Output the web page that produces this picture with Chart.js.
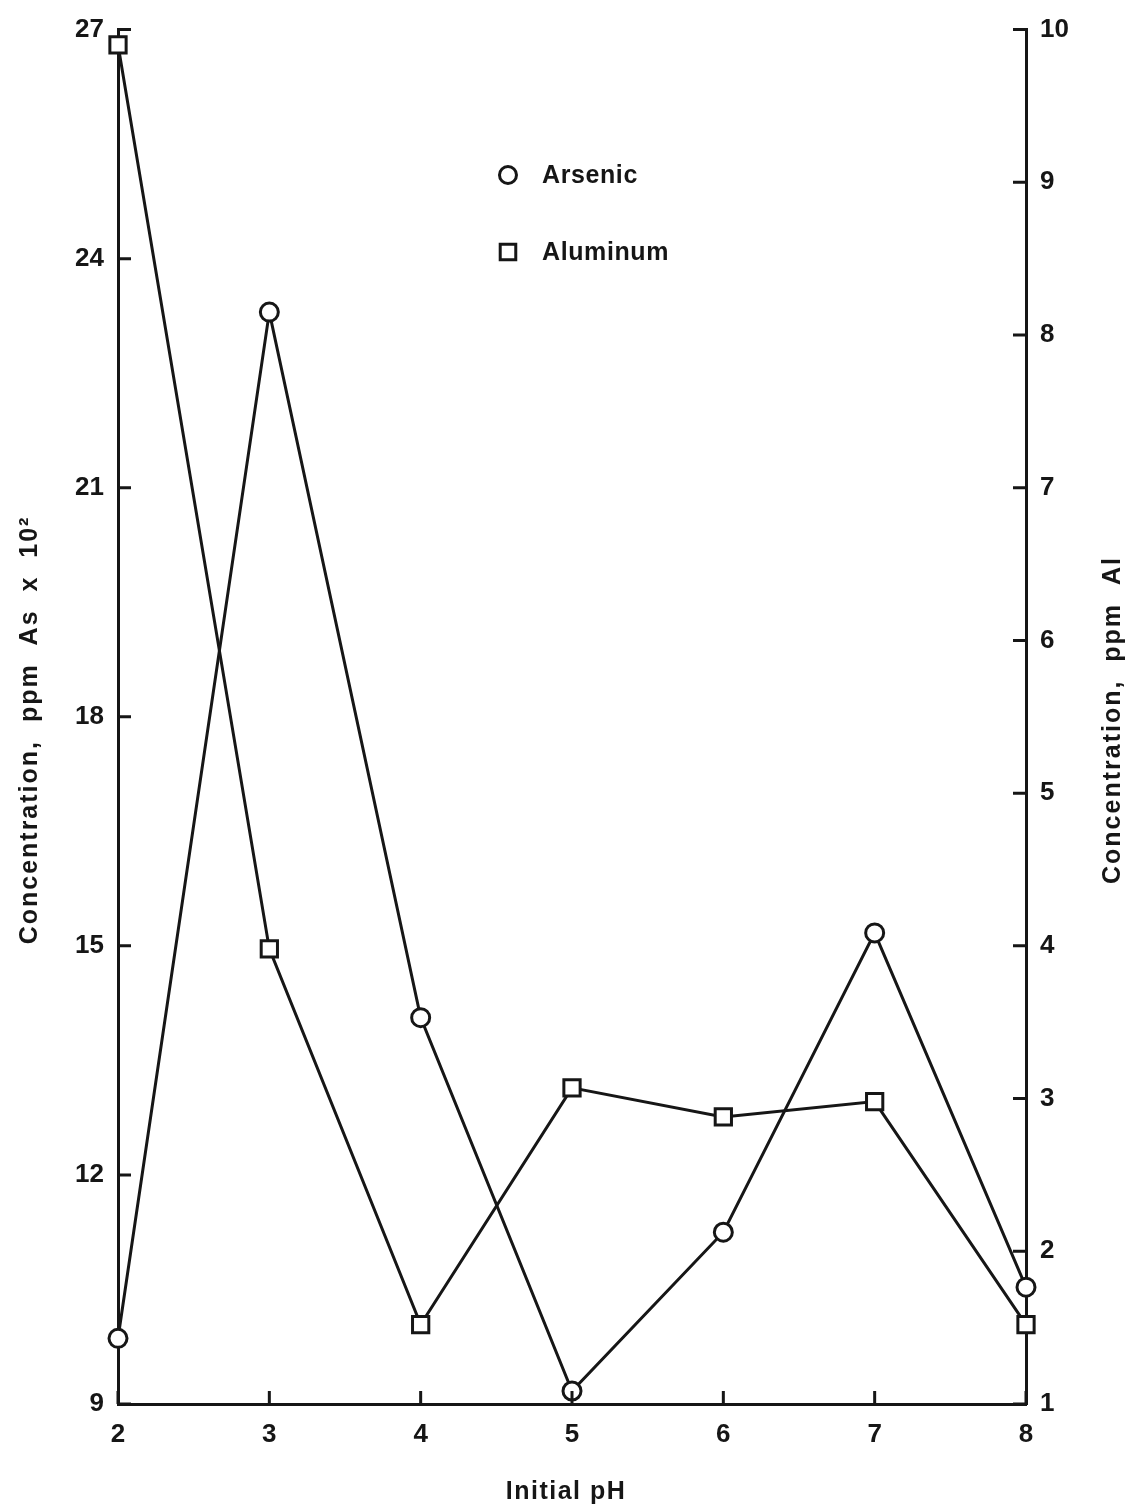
<!DOCTYPE html>
<html>
<head>
<meta charset="utf-8">
<script src="https://cdn.jsdelivr.net/npm/chart.js@4.4.1/dist/chart.umd.min.js"></script>
<style>
  html, body { margin: 0; padding: 0; background: #fff; }
  #wrap { width: 1131px; height: 1508px; }
</style>
</head>
<body>
<div id="wrap"><canvas id="phChart"></canvas></div>
<script>
const phValues = [2, 3, 4, 5, 6, 7, 8];
const arsenic = [9.86, 23.3, 14.06, 9.17, 11.25, 15.17, 10.53];   // ppm As x 10^2
const aluminum = [9.9, 3.98, 1.52, 3.07, 2.88, 2.98, 1.52];       // ppm Al

const leftTicks = [9, 12, 15, 18, 21, 24, 27];
const rightTicks = [1, 2, 3, 4, 5, 6, 7, 8, 9, 10];

const INK = "#161616";
const FONT = "'Liberation Sans', Arial, sans-serif";
const xTitle = "Initial pH";
const leftTitle = "Concentration,  ppm  As  x  10²";
const rightTitle = "Concentration,  ppm  Al";

const toPoints = (values) => values.map((v, i) => ({ x: phValues[i], y: v }));

function spacedText(ctx, text, x, y, rotation, spacing) {
  ctx.save();
  ctx.translate(x, y);
  ctx.rotate(rotation);
  ctx.letterSpacing = spacing;
  ctx.fillText(text, 0, 0);
  ctx.restore();
}

// inward tick marks, axis titles and the in-plot key
const decorations = {
  id: "decorations",
  afterDraw(chart) {
    const { ctx, chartArea: area, scales } = chart;
    const len = 13;
    ctx.save();
    ctx.strokeStyle = INK;
    ctx.lineWidth = 3;
    ctx.beginPath();
    leftTicks.forEach((v) => {
      const py = scales.y.getPixelForValue(v);
      ctx.moveTo(area.left, py);
      ctx.lineTo(area.left + len, py);
    });
    rightTicks.forEach((v) => {
      const py = scales.y1.getPixelForValue(v);
      ctx.moveTo(area.right, py);
      ctx.lineTo(area.right - len, py);
    });
    phValues.forEach((v) => {
      const px = scales.x.getPixelForValue(v);
      ctx.moveTo(px, area.bottom);
      ctx.lineTo(px, area.bottom - len);
    });
    ctx.stroke();

    ctx.fillStyle = INK;
    ctx.font = "bold 25px " + FONT;
    ctx.textAlign = "center";
    ctx.textBaseline = "middle";
    const midX = (area.left + area.right) / 2;
    spacedText(ctx, xTitle, midX - 6, 1492, 0, "1.5px");
    spacedText(ctx, leftTitle, 30, 730, -Math.PI / 2, "2px");
    spacedText(ctx, rightTitle, 1113, 720, -Math.PI / 2, "2px");
    ctx.restore();

    // key
    ctx.save();
    const keyX = area.left + (area.right - area.left) * 0.4295;
    const rows = [175, 252];
    chart.data.datasets.forEach((ds, i) => {
      ctx.strokeStyle = INK;
      ctx.fillStyle = "#fff";
      Chart.helpers.drawPoint(ctx, {
        pointStyle: ds.pointStyle,
        radius: ds.pointStyle === "rect" ? 11 : 8.5,
        borderWidth: 3.2,
        rotation: 0
      }, keyX, rows[i]);
      ctx.fillStyle = INK;
      ctx.font = "bold 25px " + FONT;
      ctx.textAlign = "left";
      ctx.textBaseline = "middle";
      ctx.letterSpacing = "0.6px";
      ctx.fillText(ds.label, keyX + 34, rows[i] + 1);
    });
    ctx.restore();
  }
};

const tickFont = { family: FONT, size: 26, weight: "bold" };

new Chart(document.getElementById("phChart"), {
  type: "line",
  data: {
    datasets: [
      {
        label: "Arsenic",
        data: toPoints(arsenic),
        yAxisID: "y",
        pointStyle: "circle",
        pointRadius: 9,
        borderColor: INK,
        borderWidth: 3,
        pointBorderWidth: 3,
        pointBackgroundColor: "#fff",
        pointBorderColor: INK,
        tension: 0
      },
      {
        label: "Aluminum",
        data: toPoints(aluminum),
        yAxisID: "y1",
        pointStyle: "rect",
        pointRadius: 11.5,
        borderColor: INK,
        borderWidth: 3,
        pointBorderWidth: 3,
        pointBackgroundColor: "#fff",
        pointBorderColor: INK,
        tension: 0
      }
    ]
  },
  options: {
    responsive: true,
    maintainAspectRatio: false,
    animation: false,
    clip: false,
    layout: { padding: { top: 27, left: 0, right: 0, bottom: 0 } },
    plugins: {
      legend: { display: false },
      tooltip: { enabled: false }
    },
    scales: {
      x: {
        type: "linear",
        min: 2,
        max: 8,
        afterFit: (scale) => { scale.height = 104; },
        afterBuildTicks: (scale) => { scale.ticks = phValues.map((v) => ({ value: v })); },
        grid: { display: true, drawOnChartArea: false, drawTicks: false },
        border: { display: true, color: INK, width: 3 },
        ticks: { color: INK, font: tickFont, padding: 15 },
        title: { display: false }
      },
      y: {
        position: "left",
        min: 9,
        max: 27,
        afterFit: (scale) => { scale.width = 118; },
        afterBuildTicks: (scale) => { scale.ticks = leftTicks.map((v) => ({ value: v })); },
        grid: { display: true, drawOnChartArea: false, drawTicks: false },
        border: { display: true, color: INK, width: 3 },
        ticks: { color: INK, font: tickFont, padding: 14 },
        title: { display: false }
      },
      y1: {
        position: "right",
        min: 1,
        max: 10,
        afterFit: (scale) => { scale.width = 105; },
        afterBuildTicks: (scale) => { scale.ticks = rightTicks.map((v) => ({ value: v })); },
        grid: { display: true, drawOnChartArea: false, drawTicks: false },
        border: { display: true, color: INK, width: 3 },
        ticks: { color: INK, font: tickFont, padding: 14 },
        title: { display: false }
      }
    }
  },
  plugins: [decorations]
});
</script>
</body>
</html>
